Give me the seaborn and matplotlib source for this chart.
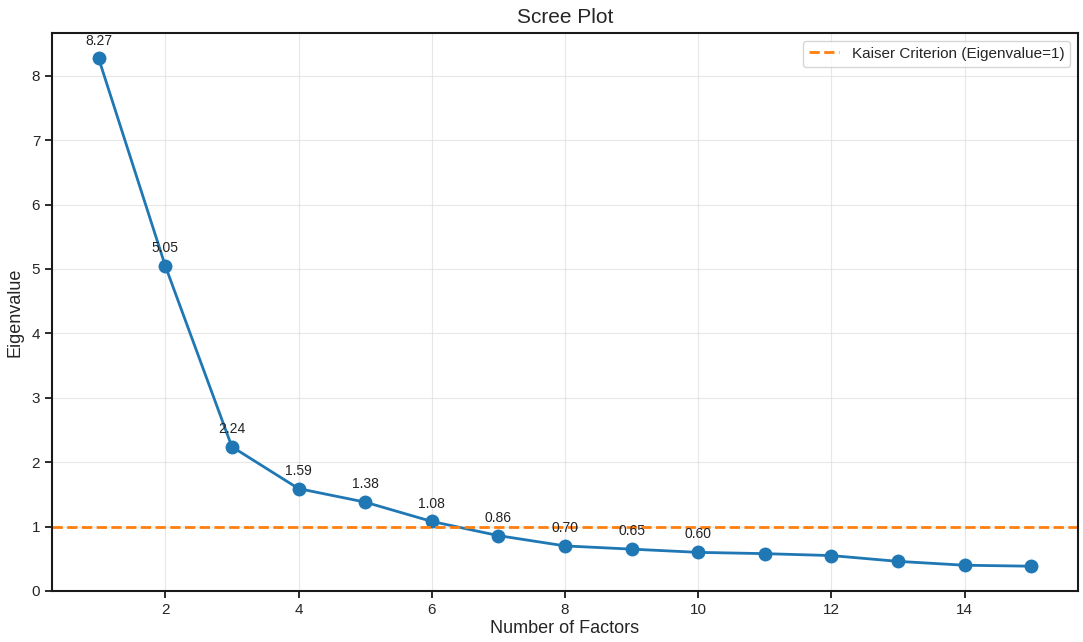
import matplotlib
matplotlib.use('Agg')
import matplotlib.pyplot as plt
import seaborn as sns
import pandas as pd

# Eigenvalues
factors = list(range(1, 16))
eigenvalues = [8.27, 5.05, 2.24, 1.59, 1.38, 1.08, 0.86, 0.70, 0.65, 0.60,
               0.58, 0.55, 0.46, 0.40, 0.385]
n_labeled = 10

df = pd.DataFrame({'factor': factors, 'eigenvalue': eigenvalues})

sns.set_style('ticks')
plt.rcParams['font.family'] = ['Liberation Sans', 'DejaVu Sans']

fig = plt.figure(figsize=(10.83, 6.42), dpi=100)
ax = fig.add_axes([52/1083, 1 - 591/642, (1078-52)/1083, (591-33)/642])

sns.lineplot(data=df, x='factor', y='eigenvalue', marker='o', color='#1f77b4',
             linewidth=2, markersize=10, markeredgewidth=0, ax=ax)
ax.axhline(1, color='#ff7f0e', linestyle='--', linewidth=2,
           label='Kaiser Criterion (Eigenvalue=1)')

for f, v in zip(factors[:n_labeled], eigenvalues[:n_labeled]):
    ax.annotate(f'{v:.2f}', (f, v), textcoords='offset points', xytext=(0, 10),
                ha='center', fontsize=10, color='#222222')

ax.set_ylim(bottom=0)
ax.grid(True, color='#dddddd', alpha=0.7, linewidth=0.8)
ax.set_title('Scree Plot', fontsize=15, pad=7)
ax.set_xlabel('Number of Factors', fontsize=13, labelpad=2)
ax.set_ylabel('Eigenvalue', fontsize=13, labelpad=6)
ax.tick_params(labelsize=11, length=5, width=1.3, color='#1a1a1a')
for s in ax.spines.values():
    s.set_linewidth(1.5)
    s.set_color('#1a1a1a')
ax.legend(loc='upper right', fontsize=11)

fig.savefig('out.png', dpi=100)
